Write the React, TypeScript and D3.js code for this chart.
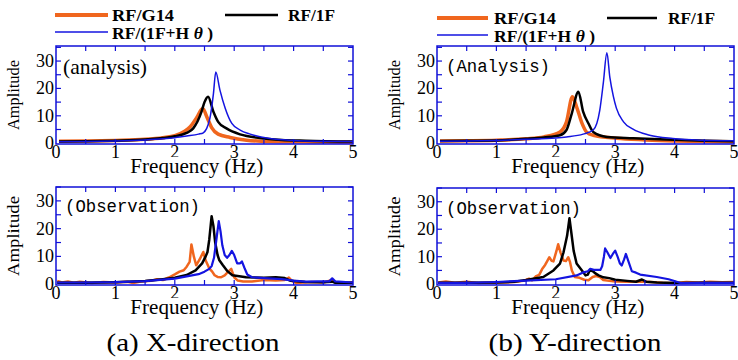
import { useEffect, useRef } from "react"
import * as d3 from "d3"

type Pt = [number, number]

const xTicks = [0, 1, 2, 3, 4, 5]
const yTicks = [0, 10, 20, 30]
const seriesNames = ["RF/G14", "RF/1F", "RF/(1F+H θ )"]
const panelTags = ["(analysis)", "(Analysis)", "(Observation)", "(Observation)"]
const captions = ["(a) X-direction", "(b) Y-direction"]

// (a) X-direction, analysis
const xAnaG14: Pt[] = [[0.05, 0.7], [0.5, 0.8], [1, 1.0], [1.5, 1.4], [1.8, 2.0], [2.0, 2.7], [2.15, 4.2], [2.26, 6], [2.37, 9.4], [2.47, 12.7], [2.54, 9.6], [2.62, 5.7], [2.73, 3.3], [2.93, 2.1], [3.21, 1.1], [3.6, 0.6], [4.0, 0.5], [4.5, 0.4], [5, 0.3]]
const xAna1F: Pt[] = [[0.05, 0.6], [0.5, 0.7], [1, 0.9], [1.5, 1.3], [1.8, 1.9], [2.0, 2.5], [2.2, 3.8], [2.31, 5.4], [2.45, 11.5], [2.5, 15], [2.56, 17], [2.65, 11.5], [2.73, 7.8], [2.87, 5.4], [3.1, 3.2], [3.43, 1.9], [3.8, 1.2], [4.2, 0.9], [5, 0.6]]
const xAnaHt: Pt[] = [[0.05, 0.5], [0.5, 0.6], [1, 0.8], [1.5, 1.2], [1.8, 1.6], [2.0, 2.0], [2.2, 2.6], [2.4, 3.3], [2.48, 3.8], [2.59, 9], [2.65, 18], [2.69, 26], [2.76, 19.4], [2.85, 12.7], [2.96, 7.2], [3.1, 4.8], [3.27, 3.3], [3.6, 1.7], [4.0, 1.0], [4.5, 0.7], [5, 0.6]]

// (b) Y-direction, analysis
const yAnaG14: Pt[] = [[0.05, 0.8], [0.5, 0.9], [1, 1.1], [1.5, 1.6], [1.8, 2.3], [2.07, 4.1], [2.18, 7.8], [2.28, 17], [2.35, 13.3], [2.44, 7.3], [2.52, 4.0], [2.63, 2.9], [3.02, 1.8], [3.5, 1.2], [4.0, 0.8], [4.5, 0.6], [5, 0.5]]
const yAna1F: Pt[] = [[0.05, 0.8], [0.5, 0.9], [1, 1.0], [1.5, 1.6], [1.8, 2.1], [2.07, 2.9], [2.18, 4.8], [2.27, 10.9], [2.38, 18.8], [2.46, 11.5], [2.55, 7.2], [2.63, 4.1], [2.86, 2.3], [3.3, 1.8], [3.86, 1.3], [4.5, 0.9], [5, 0.7]]
const yAnaHt: Pt[] = [[0.05, 0.7], [0.5, 0.8], [1, 1.0], [1.5, 1.4], [2.0, 1.9], [2.18, 2.3], [2.46, 3.3], [2.63, 4.8], [2.74, 12], [2.8, 22], [2.86, 33], [2.91, 24], [2.97, 17], [3.02, 12.8], [3.14, 7.8], [3.3, 5.1], [3.58, 2.9], [3.97, 1.7], [4.43, 1.1], [5, 0.9]]

// (a) X-direction, observation
const xObsG14: Pt[] = [[0.02, 1.2], [0.1, 0.6], [0.2, 1.0], [0.3, 0.5], [0.4, 0.9], [0.6, 0.4], [0.8, 0.8], [1.0, 0.6], [1.2, 0.9], [1.3, 0.4], [1.45, 1.0], [1.6, 1.2], [1.7, 1.8], [1.8, 1.5], [1.9, 2.4], [2.0, 3.5], [2.08, 4.5], [2.15, 5], [2.2, 6.3], [2.25, 8], [2.28, 14.3], [2.32, 10], [2.36, 6.8], [2.42, 9], [2.48, 11.6], [2.52, 8.5], [2.58, 5.7], [2.63, 4.5], [2.67, 3.2], [2.72, 2.6], [2.78, 2.5], [2.84, 3.2], [2.9, 4.5], [2.95, 5.5], [3.0, 2.5], [3.06, 1.3], [3.15, 1.0], [3.3, 1.0], [3.5, 1.5], [3.7, 1.3], [3.85, 1.5], [3.92, 2.4], [3.97, 1.2], [4.05, 0.4], [4.3, 0.8], [4.5, 0.6], [4.65, 1.5], [4.72, 0.6], [4.9, 0.5], [5, 0.7]]
const xObs1F: Pt[] = [[0.02, 0.5], [0.5, 0.5], [1, 0.7], [1.5, 1.1], [1.8, 1.8], [2.0, 2.3], [2.2, 3.3], [2.35, 5], [2.46, 7.5], [2.52, 10], [2.55, 11.6], [2.58, 16], [2.62, 24.5], [2.65, 21], [2.68, 15], [2.72, 10.5], [2.75, 8.6], [2.81, 6.8], [2.88, 4.8], [2.97, 3.2], [3.2, 2.5], [3.5, 2.3], [3.7, 2.5], [3.85, 2.2], [3.95, 1.2], [4.2, 0.8], [4.5, 0.7], [4.65, 0.9], [4.7, 0.5], [5, 0.5]]
const xObsHt: Pt[] = [[0.02, 0.6], [0.5, 0.6], [1, 0.7], [1.5, 1.1], [2.0, 2.0], [2.2, 2.8], [2.4, 3.6], [2.5, 4.5], [2.58, 5.5], [2.62, 6.5], [2.66, 9.5], [2.7, 16], [2.74, 22.7], [2.77, 19], [2.8, 14], [2.84, 10.5], [2.88, 9.5], [2.92, 10.5], [2.96, 12], [3.0, 10.5], [3.05, 7.5], [3.1, 7.5], [3.13, 8.2], [3.17, 6], [3.22, 3.5], [3.3, 2.5], [3.5, 2.2], [3.8, 1.8], [4.0, 1.3], [4.2, 0.9], [4.4, 1.0], [4.6, 1.0], [4.65, 2.1], [4.7, 1.0], [5, 0.6]]

// (b) Y-direction, observation
const yObsG14: Pt[] = [[0.02, 0.6], [0.15, 1.0], [0.3, 0.5], [0.5, 0.9], [0.7, 0.4], [0.9, 0.7], [1.1, 0.6], [1.3, 0.8], [1.45, 1.2], [1.55, 2.0], [1.6, 1.4], [1.66, 2.8], [1.72, 3.4], [1.77, 5.5], [1.82, 7], [1.86, 8.6], [1.89, 9.8], [1.93, 8.5], [1.96, 8.3], [2.01, 12], [2.04, 14.5], [2.08, 11.5], [2.13, 8.6], [2.17, 8.4], [2.21, 9.8], [2.24, 8], [2.27, 5], [2.32, 2.6], [2.4, 2.3], [2.48, 1.6], [2.55, 1.4], [2.62, 2.6], [2.68, 3], [2.74, 2.6], [2.8, 1.5], [2.9, 1.2], [3.0, 1.0], [3.2, 0.9], [3.4, 1.0], [3.6, 0.8], [3.8, 0.5], [4.0, 0.4], [4.2, 0.8], [4.4, 0.6], [4.6, 0.9], [4.8, 0.7], [5, 0.8]]
const yObs1F: Pt[] = [[0.02, 0.5], [0.5, 0.5], [1, 0.6], [1.3, 0.9], [1.5, 1.5], [1.79, 2.6], [1.96, 5], [2.07, 7.5], [2.13, 11.6], [2.19, 17.6], [2.23, 24], [2.26, 19], [2.3, 12.2], [2.35, 7.5], [2.44, 5], [2.5, 3.2], [2.54, 3.5], [2.57, 5], [2.62, 4.8], [2.66, 4], [2.72, 3.2], [2.8, 2.5], [2.9, 2.2], [3.0, 1.6], [3.2, 1.2], [3.35, 0.9], [3.45, 1.7], [3.52, 0.9], [3.7, 0.6], [4.0, 0.4], [4.5, 0.5], [5, 0.5]]
const yObsHt: Pt[] = [[0.02, 0.5], [0.5, 0.5], [1, 0.8], [1.5, 1.3], [2.0, 1.8], [2.35, 3.2], [2.45, 4.2], [2.54, 4.7], [2.58, 5.6], [2.64, 5.2], [2.75, 5.2], [2.78, 6.5], [2.81, 10], [2.83, 13], [2.87, 11.5], [2.92, 9.5], [2.96, 11], [3.0, 12.2], [3.04, 10], [3.08, 7.5], [3.11, 6.8], [3.15, 9], [3.18, 11], [3.22, 8.5], [3.28, 4.7], [3.35, 4.2], [3.42, 3.5], [3.7, 2.6], [3.9, 1.8], [4.05, 0.8], [4.1, 0.4], [4.4, 0.5], [4.8, 0.5], [5, 0.5]]

const ORANGE = "#f0661e"
const BLACK = "#000000"
const BLUE = "#1414e0"
const FRAME = "#1010d8"
const SERIF = "Times New Roman, Liberation Serif, Tinos, Nimbus Roman, FreeSerif, serif"
const MONO = "Courier New, Liberation Mono, Cousine, Nimbus Mono PS, monospace"

export default function App() {
  const svgRef = useRef<SVGSVGElement>(null)

  useEffect(() => {
    if (!svgRef.current) return
    const svg = d3.select(svgRef.current)
    svg.selectAll("*").remove()

    const panels = [
      { left: 56, right: 353, top: 46, bottom: 144, dom: [-0.3, 35.5], data: [xAnaG14, xAna1F, xAnaHt], tag: panelTags[0], tagFont: SERIF, tagSize: 21, tagLen: 84, tagX: 63, tagY: 74, obs: false, ampLen: 70, labY: 173 },
      { left: 437, right: 734, top: 46, bottom: 144, dom: [-0.3, 35.5], data: [yAnaG14, yAna1F, yAnaHt], tag: panelTags[1], tagFont: MONO, tagSize: 18, tagLen: 104, tagX: 446, tagY: 72, obs: false, ampLen: 70, labY: 173 },
      { left: 56, right: 353, top: 187, bottom: 285, dom: [-0.3, 35], data: [xObsG14, xObs1F, xObsHt], tag: panelTags[2], tagFont: MONO, tagSize: 18, tagLen: 135, tagX: 65, tagY: 212, obs: true, ampLen: 80, labY: 314 },
      { left: 437, right: 734, top: 188, bottom: 285, dom: [-0.3, 35], data: [yObsG14, yObs1F, yObsHt], tag: panelTags[3], tagFont: MONO, tagSize: 18, tagLen: 135, tagX: 446, tagY: 214, obs: true, ampLen: 80, labY: 314 },
    ]

    panels.forEach((p, i) => {
      const x = d3.scaleLinear().domain([0, 5]).range([p.left, p.right])
      const y = d3.scaleLinear().domain(p.dom).range([p.bottom, p.top])
      const g = svg.append("g")

      const clipId = `clip-${i}`
      svg.append("clipPath").attr("id", clipId)
        .append("rect")
        .attr("x", p.left).attr("y", p.top)
        .attr("width", p.right - p.left).attr("height", p.bottom - p.top)

      // tick labels
      g.selectAll(".xt").data(xTicks).join("text")
        .attr("x", (d) => x(d)).attr("y", p.bottom + 14)
        .attr("text-anchor", "middle")
        .style("font-family", SERIF).style("font-size", "18px")
        .text((d) => d)
      g.selectAll(".yt").data(yTicks).join("text")
        .attr("x", p.left - 2).attr("y", (d) => y(d) + 6)
        .attr("text-anchor", "end")
        .style("font-family", SERIF).style("font-size", "18px")
        .text((d) => d)

      // x label, its white box hides part of the tick labels
      const labX = p.left + (p.right - p.left) * 0.25
      g.append("rect")
        .attr("x", labX - 3).attr("y", p.labY - 16)
        .attr("width", 86).attr("height", 22)
        .attr("fill", "#fff")
      g.append("text")
        .attr("x", labX).attr("y", p.labY)
        .attr("textLength", 133).attr("lengthAdjust", "spacingAndGlyphs")
        .style("font-family", SERIF).style("font-size", "20px")
        .text("Frequency (Hz)")

      // y label
      const midY = (p.top + p.bottom) / 2
      g.append("text")
        .attr("transform", `translate(${p.left - 37},${midY}) rotate(-90)`)
        .attr("text-anchor", "middle")
        .attr("textLength", p.ampLen).attr("lengthAdjust", "spacingAndGlyphs")
        .style("font-family", SERIF).style("font-size", "16px")
        .text("Amplitude")

      // curves
      const line = d3.line<Pt>()
        .x((d) => x(d[0]))
        .y((d) => y(d[1]))
        .curve(p.obs ? d3.curveLinear : d3.curveMonotoneX)
      const colors = [ORANGE, BLACK, BLUE]
      const widths = p.obs ? [2.5, 2.5, 2.2] : [3.5, 2.5, 1.5]
      const cg = g.append("g").attr("clip-path", `url(#${clipId})`)
      p.data.forEach((s, k) => {
        cg.append("path")
          .datum(s)
          .attr("fill", "none")
          .attr("stroke", colors[k])
          .attr("stroke-width", widths[k])
          .attr("stroke-linejoin", "round")
          .attr("d", line)
      })

      // frame + inner ticks
      g.append("rect")
        .attr("x", p.left).attr("y", p.top)
        .attr("width", p.right - p.left).attr("height", p.bottom - p.top)
        .attr("fill", "none").attr("stroke", FRAME).attr("stroke-width", 1.5)
      const xt = d3.range(0.5, 5, 0.5)
      const yt = d3.range(5, 35.1, 5)
      g.selectAll(".tb").data(xt).join("line")
        .attr("x1", (d) => x(d)).attr("x2", (d) => x(d))
        .attr("y1", p.bottom).attr("y2", p.bottom - 5)
        .attr("stroke", FRAME).attr("stroke-width", 1.2)
      g.selectAll(".tt").data(xt).join("line")
        .attr("x1", (d) => x(d)).attr("x2", (d) => x(d))
        .attr("y1", p.top).attr("y2", p.top + 5)
        .attr("stroke", FRAME).attr("stroke-width", 1.2)
      g.selectAll(".tl").data(yt).join("line")
        .attr("x1", p.left).attr("x2", p.left + 5)
        .attr("y1", (d) => y(d)).attr("y2", (d) => y(d))
        .attr("stroke", FRAME).attr("stroke-width", 1.2)
      g.selectAll(".tr").data(yt).join("line")
        .attr("x1", p.right).attr("x2", p.right - 5)
        .attr("y1", (d) => y(d)).attr("y2", (d) => y(d))
        .attr("stroke", FRAME).attr("stroke-width", 1.2)

      // panel tag
      g.append("text")
        .attr("x", p.tagX).attr("y", p.tagY)
        .attr("textLength", p.tagLen).attr("lengthAdjust", "spacingAndGlyphs")
        .style("font-family", p.tagFont).style("font-size", `${p.tagSize}px`)
        .text(p.tag)
    })

    // legends
    const legends = [
      { x1: 55, x2: 108, tx: 112, row1: 15, row2: 32, bx1: 225, bx2: 278, btx: 288, t1: 21, t2: 39 },
      { x1: 437, x2: 488, tx: 494, row1: 18, row2: 35, bx1: 607, bx2: 657, btx: 668, t1: 24, t2: 42 },
    ]
    legends.forEach((l) => {
      const lg = svg.append("g")
      lg.append("line").attr("x1", l.x1).attr("x2", l.x2).attr("y1", l.row1).attr("y2", l.row1)
        .attr("stroke", ORANGE).attr("stroke-width", 4)
      lg.append("line").attr("x1", l.bx1).attr("x2", l.bx2).attr("y1", l.row1).attr("y2", l.row1)
        .attr("stroke", BLACK).attr("stroke-width", 2.5)
      lg.append("line").attr("x1", l.x1).attr("x2", l.x2).attr("y1", l.row2).attr("y2", l.row2)
        .attr("stroke", BLUE).attr("stroke-width", 1.5)
      const txt = (xx: number, yy: number, len: number) =>
        lg.append("text").attr("x", xx).attr("y", yy)
          .attr("textLength", len).attr("lengthAdjust", "spacingAndGlyphs")
          .style("font-family", SERIF).style("font-size", "17px").style("font-weight", "bold")
      txt(l.tx, l.t1, 62).text(seriesNames[0])
      txt(l.btx, l.t1, 47).text(seriesNames[1])
      const t3 = txt(l.tx, l.t2, 101)
      t3.append("tspan").text("RF/(1F+H ")
      t3.append("tspan").style("font-style", "italic").text("θ")
      t3.append("tspan").text(" )")
    })

    // captions
    const capX = [193, 575]
    captions.forEach((c, i) => {
      svg.append("text")
        .attr("x", capX[i]).attr("y", 351)
        .attr("text-anchor", "middle")
        .attr("textLength", 173).attr("lengthAdjust", "spacingAndGlyphs")
        .style("font-family", SERIF).style("font-size", "25px")
        .text(c)
    })
  }, [])

  return (
    <svg
      ref={svgRef}
      width={738}
      height={360}
      style={{ position: "absolute", left: 0, top: 0, background: "#fff" }}
    />
  )
}
